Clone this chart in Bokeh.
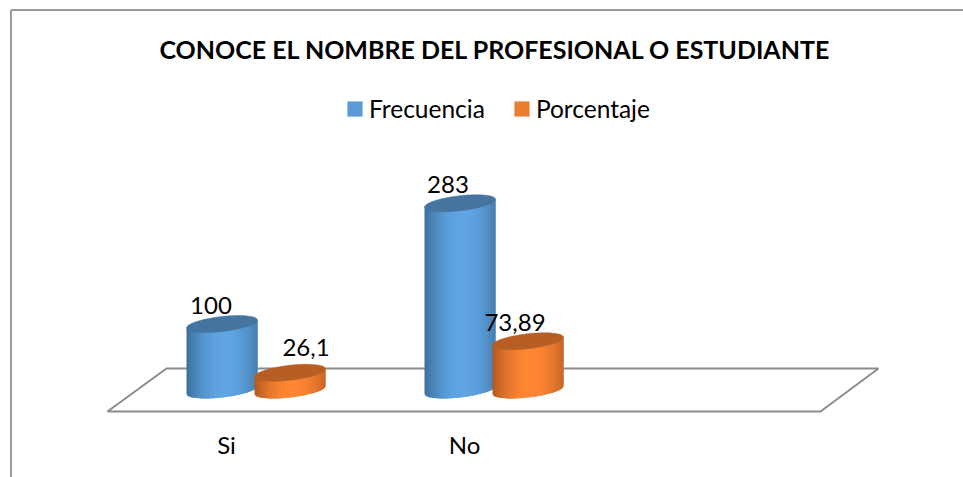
import numpy as np
from bokeh.core.properties import value
from bokeh.embed import file_html
from bokeh.models import FixedTicker, Legend, LegendItem, LinearAxis, Range1d
from bokeh.plotting import figure
from bokeh.resources import INLINE

title_text = "CONOCE EL NOMBRE DEL PROFESIONAL O ESTUDIANTE"
categories = ["Si", "No", ""]
frecuencia = [100, 283]
porcentaje = [26.1, 73.89]
frecuencia_labels = ["100", "283"]
porcentaje_labels = ["26,1", "73,89"]

FONT = "Lato"
W, H = 963, 477
PX_PER_CAT, CAT0_PX = 238.0, 226.0
PX_PER_UNIT, BASE_PX = 0.66, 389.5


def X(px):
    return (np.asarray(px, dtype=float) - CAT0_PX) / PX_PER_CAT


def Y(py):
    return (BASE_PX - np.asarray(py, dtype=float)) / PX_PER_UNIT


p = figure(
    width=W, height=H, output_backend="svg", toolbar_location=None,
    x_range=Range1d(float(X(0)), float(X(W))),
    y_range=Range1d(float(Y(H)), float(Y(0))),
    x_axis_location=None, y_axis_location=None,
    min_border=0, outline_line_color=None, background_fill_color="white",
)
p.grid.visible = False

# chart border (top and left only)
border = "#9a9a9a"
p.line(X([10.5, 10.5]), Y([477, 9.5]), line_color=border, line_width=2)
p.line(X([10.5, 963]), Y([9.5, 9.5]), line_color=border, line_width=2)

# floor plane
p.patch(X([107, 166, 878, 820]), Y([411, 368, 368, 411]), fill_color="white",
        line_color="#8c8c8c", line_width=2)

A, B, SHEAR = 35.5, 7.5, -0.11


def mix(c0, c1, t):
    return "#%02x%02x%02x" % tuple(int(round(a + (b - a) * t)) for a, b in zip(c0, c1))


def cylinder(cx_px, val, dark, light, top):
    top_py = BASE_PX - val * PX_PER_UNIT
    edges = np.arange(cx_px - A, cx_px + A + 0.5, 1.0)
    xs, ys, cols = [], [], []
    for x0, x1 in zip(edges[:-1], edges[1:]):
        # each strip runs under the next one so that no white seam shows
        sub = np.linspace(x0, min(x1 + 1.0, cx_px + A), 3)
        u = (sub - cx_px) / A
        low = BASE_PX + SHEAR * (sub - cx_px) + B * np.sqrt(np.clip(1 - u * u, 0, 1))
        up = top_py + SHEAR * (sub - cx_px)
        xs.append(X(np.r_[sub, sub[::-1]]))
        ys.append(Y(np.r_[low, up[::-1]]))
        m = ((x0 + x1) / 2 - cx_px) / A
        t = np.cos(np.clip((m - 0.08) / 1.08, -1, 1) * np.pi / 2) ** 0.8
        cols.append(mix(dark, light, t))
    p.patches(xs, ys, fill_color=cols, line_color=None)
    t = np.linspace(0, 2 * np.pi, 80)
    ex = cx_px + A * np.cos(t)
    ey = top_py + SHEAR * A * np.cos(t) + B * np.sin(t)
    p.patch(X(ex), Y(ey), fill_color=top, line_color=top, line_width=0.5)


BLUE_D, BLUE_L, BLUE_T = (0x3b, 0x6c, 0x98), (0x60, 0xa5, 0xe3), "#44749f"
ORNG_D, ORNG_L, ORNG_T = (0xae, 0x57, 0x1f), (0xff, 0x86, 0x33), "#b65e23"

bar_centers = [(CAT0_PX + i * PX_PER_CAT + 29.5) for i in range(len(frecuencia))]
for c, f, o in zip(bar_centers, frecuencia, porcentaje):
    cylinder(c - 34, f, BLUE_D, BLUE_L, BLUE_T)
    cylinder(c + 34, o, ORNG_D, ORNG_L, ORNG_T)

# data labels: vertical centre placed a fixed distance above each cylinder's top
DL = dict(text_font=value(FONT), text_font_size="24px", text_color="black",
          text_align="center", text_baseline="middle")
dx_f, dx_o = [-11, -12], [16, -13]
dy_f, dy_o = [19, 19], [25, 19]
for c, f, o, lf, lo, a, b, e, g in zip(bar_centers, frecuencia, porcentaje, frecuencia_labels,
                                       porcentaje_labels, dx_f, dx_o, dy_f, dy_o):
    p.text([X(c - 34 + a)], [f + e / PX_PER_UNIT], text=[lf], **DL)
    p.text([X(c + 34 + b)], [o + g / PX_PER_UNIT], text=[lo], **DL)

# title
p.text([X(495)], [Y(48)], text=[title_text], text_font=value(FONT), text_font_size="25px",
       text_font_style="bold", text_color="black", text_align="center", text_baseline="middle")

# category axis, placed inside the frame under the floor
axis = LinearAxis(
    fixed_location=float(Y(419)),
    ticker=FixedTicker(ticks=[0, 1]),
    major_label_overrides={i: c for i, c in enumerate(categories[:2])},
    axis_line_color=None, major_tick_line_color=None, minor_tick_line_color=None,
    major_label_text_font=FONT, major_label_text_font_size="24px",
    major_label_text_color="black", major_label_standoff=4,
)
p.add_layout(axis, "below")

# legend
r1 = p.quad(left=[np.nan], right=[np.nan], top=[np.nan], bottom=[np.nan], fill_color="#5B9BD5", line_color=None)
r2 = p.quad(left=[np.nan], right=[np.nan], top=[np.nan], bottom=[np.nan], fill_color="#ED7D31", line_color=None)
legend = Legend(
    items=[LegendItem(label="Frecuencia", renderers=[r1]), LegendItem(label="Porcentaje", renderers=[r2])],
    orientation="horizontal", location=(345, H - 123),
    glyph_width=19, glyph_height=19, label_standoff=5, spacing=27, padding=0, margin=0,
    border_line_color=None, background_fill_alpha=0,
    label_text_font=FONT, label_text_font_size="24.5px", label_text_color="black",
    label_height=19,
)
p.add_layout(legend, "center")

open("out.html", "w").write(file_html(p, INLINE))
